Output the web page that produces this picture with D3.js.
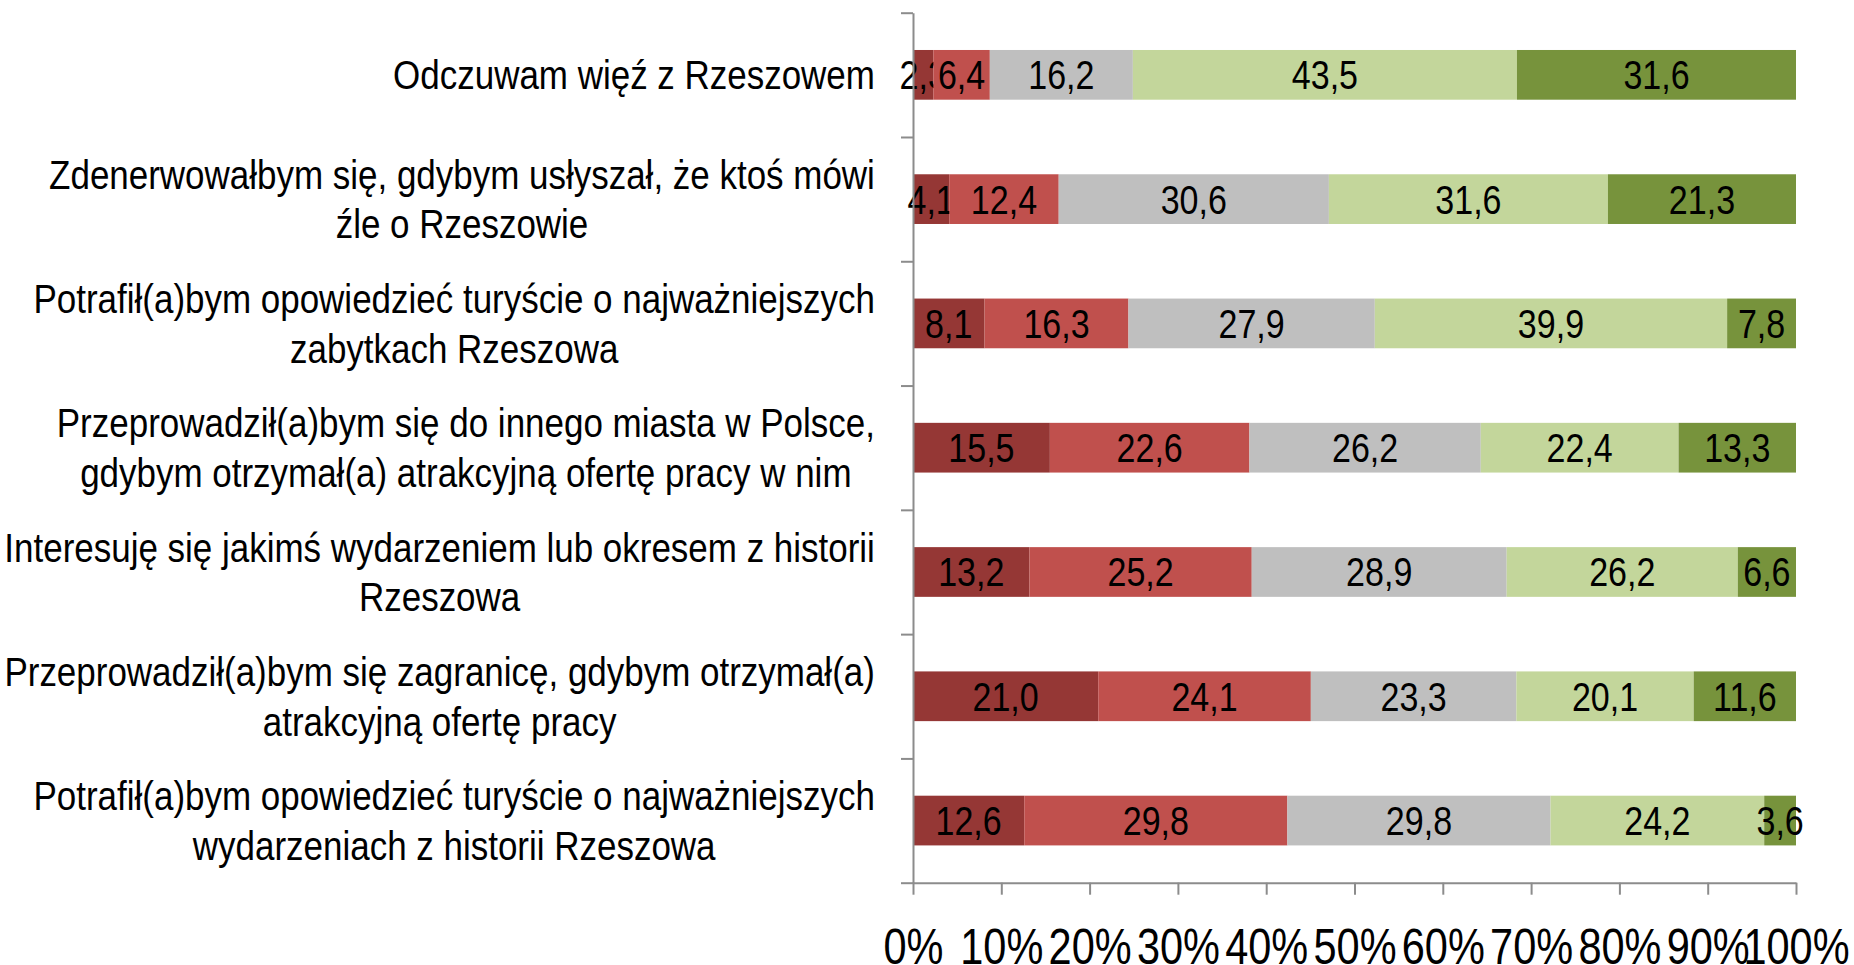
<!DOCTYPE html>
<html>
<head>
<meta charset="utf-8">
<script src="https://cdn.jsdelivr.net/npm/d3@7"></script>
<style>
  body { margin: 0; background: #fff; }
  svg text { font-family: "Liberation Sans", Arial, sans-serif; fill: #000; }
  .axis path, .axis line { stroke: #8c8c8c; stroke-width: 2; }
</style>
</head>
<body>
<div id="chart"></div>
<script>
// Categories (label lines as broken in the original)
const categories = [
  ["Odczuwam więź z Rzeszowem"],
  ["Zdenerwowałbym się, gdybym usłyszał, że ktoś mówi", "źle o Rzeszowie"],
  ["Potrafił(a)bym opowiedzieć turyście o najważniejszych", "zabytkach Rzeszowa"],
  ["Przeprowadził(a)bym się do innego miasta w Polsce,", "gdybym otrzymał(a) atrakcyjną ofertę pracy w nim"],
  ["Interesuję się jakimś wydarzeniem lub okresem z historii", "Rzeszowa"],
  ["Przeprowadził(a)bym się zagranicę, gdybym otrzymał(a)", "atrakcyjną ofertę pracy"],
  ["Potrafił(a)bym opowiedzieć turyście o najważniejszych", "wydarzeniach z historii Rzeszowa"]
];

// Series values (%), one per answer level
const s1 = [2.3, 4.1, 8.1, 15.5, 13.2, 21.0, 12.6];
const s2 = [6.4, 12.4, 16.3, 22.6, 25.2, 24.1, 29.8];
const s3 = [16.2, 30.6, 27.9, 26.2, 28.9, 23.3, 29.8];
const s4 = [43.5, 31.6, 39.9, 22.4, 26.2, 20.1, 24.2];
const s5 = [31.6, 21.3, 7.8, 13.3, 6.6, 11.6, 3.6];

const seriesKeys = ["s1", "s2", "s3", "s4", "s5"];
const seriesColors = ["#953735", "#c0504d", "#bfbfbf", "#c3d69b", "#77933c"];

const xTicks = [0, 0.1, 0.2, 0.3, 0.4, 0.5, 0.6, 0.7, 0.8, 0.9, 1];

const W = 1854, H = 965;
const mg = { top: 12.7, right: 58, bottom: 82.3, left: 913 };
const squeeze = 0.83;       // the original text is horizontally condensed
const labelSqueeze = 0.853;

const plFormat = d3.formatLocale({ decimal: ",", thousands: " ", grouping: [3], currency: ["", ""] });
const fmtVal = plFormat.format(".1f");

const rows = categories.map((c, i) => ({
  idx: i, s1: s1[i], s2: s2[i], s3: s3[i], s4: s4[i], s5: s5[i]
}));

const svg = d3.select("#chart").append("svg")
  .attr("width", W)
  .attr("height", H);

const innerW = W - mg.left - mg.right,
      innerH = H - mg.top - mg.bottom;

const g = svg.append("g").attr("transform", `translate(${mg.left},${mg.top})`);

// Scales
const x = d3.scaleLinear().domain([0, 1]).range([0, innerW]);
const y = d3.scaleBand()
  .domain(rows.map(d => d.idx))
  .range([0, innerH])
  .paddingInner(0.6)
  .paddingOuter(0.3);
const yEdges = d3.scaleLinear().domain([0, rows.length]).range([0, innerH]);

const stacked = d3.stack()
  .keys(seriesKeys)
  .offset(d3.stackOffsetExpand)(rows);

// Bars
const layers = g.selectAll(".layer")
  .data(stacked)
  .enter().append("g")
  .attr("class", "layer")
  .attr("fill", (d, i) => seriesColors[i]);

layers.selectAll("rect")
  .data(d => d)
  .enter().append("rect")
  .attr("x", d => x(d[0]))
  .attr("y", d => y(d.data.idx))
  .attr("width", d => x(d[1]) - x(d[0]))
  .attr("height", y.bandwidth());

// Value labels
layers.each(function (layer) {
  d3.select(this).selectAll("text")
    .data(layer)
    .enter().append("text")
    .attr("text-anchor", "middle")
    .attr("font-size", 41)
    .attr("transform", d => {
      let cx = (x(d[0]) + x(d[1])) / 2,
          cy = y(d.data.idx) + y.bandwidth() / 2 + 14.5;
      return `translate(${cx},${cy}) scale(${squeeze},1)`;
    })
    .text(d => fmtVal(d.data[layer.key]));
});

// Y axis: ticks on band edges
g.append("g")
  .attr("class", "axis")
  .call(d3.axisLeft(yEdges).tickValues(d3.range(rows.length + 1)).tickFormat("").tickSize(12).tickSizeOuter(0));

// X axis
const xAxis = g.append("g")
  .attr("class", "axis")
  .attr("transform", `translate(0,${innerH})`)
  .call(d3.axisBottom(x).tickValues(xTicks).tickFormat(d3.format(".0%")).tickSize(12).tickSizeOuter(0));

xAxis.selectAll("text")
  .attr("y", null)
  .attr("dy", null)
  .attr("font-size", 50)
  .attr("font-family", null)
  .attr("fill", "#000")
  .attr("transform", `translate(0,81) scale(${squeeze},1)`);

// Category labels, lines centred within a right-aligned block
const labelRight = -38, lineGap = 49.6;
const catLabels = g.selectAll(".cat")
  .data(rows)
  .enter().append("g")
  .attr("class", "cat");

catLabels.each(function (d) {
  let lines = categories[d.idx],
      sel = d3.select(this),
      cy = y(d.idx) + y.bandwidth() / 2 + 14.5,
      y0 = cy - (lines.length - 1) * lineGap / 2;

  let texts = sel.selectAll("text")
    .data(lines)
    .enter().append("text")
    .attr("font-size", 41)
    .attr("text-anchor", "middle")
    .text(t => t);

  let maxW = d3.max(texts.nodes(), n => n.getComputedTextLength()) * labelSqueeze;
  let cx = labelRight - maxW / 2;

  texts.attr("transform", (t, i) => `translate(${cx},${y0 + i * lineGap}) scale(${labelSqueeze},1)`);
});
</script>
</body>
</html>
